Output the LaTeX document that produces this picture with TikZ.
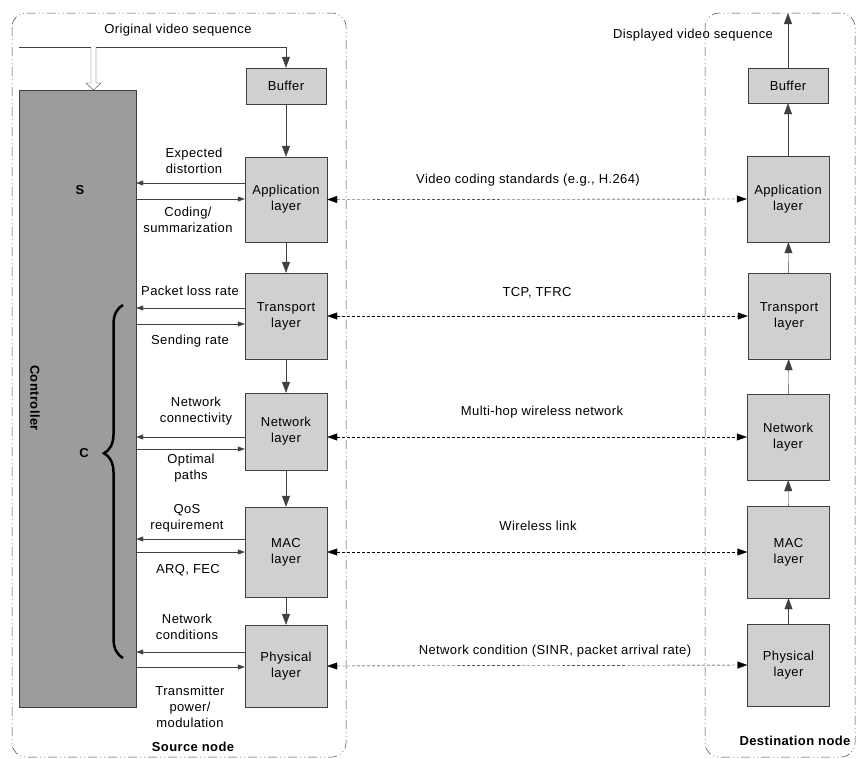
\documentclass[tikz,border=0pt]{standalone}
\usepackage{fontspec}
\setmainfont[LetterSpace=3]{Liberation Sans}
\usepackage{tikz}
\usetikzlibrary{arrows.meta, decorations.pathreplacing}
\definecolor{boxgray}{HTML}{D0D0D0}
\definecolor{ctrlgray}{HTML}{9C9C9C}
\definecolor{linegray}{HTML}{404040}

\begin{document}
\begin{tikzpicture}[x=1pt, y=-1pt,
  every node/.style={font=\fontsize{13}{16}\selectfont, align=center},
  btext/.style={font=\fontsize{13}{16}\selectfont\bfseries},
  layer/.style={draw=linegray, fill=boxgray, minimum width=82pt, inner sep=0pt},
  flow/.style={-{Triangle[length=11pt,width=8pt]}, linegray},
  feed/.style={-{Triangle[length=7pt,width=5pt]}, linegray},
  link/.style={densely dashed, {Triangle[length=10pt,width=7pt]}-{Triangle[length=10pt,width=7pt]}},
  nodeframe/.style={draw=black!75, line width=0.5pt, rounded corners=14pt,
    dash pattern=on 9pt off 3pt on 1pt off 3pt on 1pt off 3pt}]
  \useasboundingbox (0,0) rectangle (859,758);

  % Source and destination frames
  \draw[nodeframe] (12,13) rectangle (346,757);
  \draw[nodeframe] (705,13) rectangle (855,757);

  % Controller
  \node[draw=linegray, fill=ctrlgray, minimum width=117pt, minimum height=617pt, inner sep=0pt] (ctrl) at (77.5,398.5) {};
  \node[btext, rotate=-90] (ctrltext) at (35,398) {Controller};
  \node[btext] (slabel) at (80,190) {S};
  \node[btext] (clabel) at (84,453) {C};
  \draw[line width=2.5pt, decorate, decoration={brace, amplitude=19pt, aspect=0.58}] (123,658) -- (123,305);

  % Source layers
  \node[layer, minimum width=80pt, minimum height=36pt] (sbuf) at (286,86) {Buffer};
  \node[layer, minimum height=85pt] (sapp) at (286,199.5) {Application\\layer};
  \node[layer, minimum height=86pt] (stra) at (286,316) {Transport\\layer};
  \node[layer, minimum height=77pt] (snet) at (286,431.5) {Network\\layer};
  \node[layer, minimum height=90pt] (smac) at (286,552) {MAC\\layer};
  \node[layer, minimum height=82pt] (sphy) at (286,666) {Physical\\layer};

  % Destination layers
  \node[layer, minimum width=80pt, minimum height=35pt] (dbuf) at (788,85.5) {Buffer};
  \node[layer, minimum height=86pt] (dapp) at (788,199) {Application\\layer};
  \node[layer, minimum height=86pt] (dtra) at (789,316) {Transport\\layer};
  \node[layer, minimum height=86pt] (dnet) at (788,437) {Network\\layer};
  \node[layer, minimum height=92pt] (dmac) at (788.5,552) {MAC\\layer};
  \node[layer, minimum height=82pt] (dphy) at (788.5,665) {Physical\\layer};

  % Video in and out
  \coordinate (vin) at (19,47);
  \node (vintext) at (178,30) {Original video sequence};
  \draw[flow] (vin) -- (sbuf.north |- vin) -- (sbuf.north);
  \draw[linegray, fill=white] (91,47) -- (91,83) -- (86,83) -- (93.5,90) -- (101,83) -- (96,83) -- (96,47);
  \coordinate (vout) at (788,13);
  \node (vouttext) at (693,35) {Displayed video sequence};
  \draw[flow] (dbuf.north) -- (vout);

  % Down the source stack
  \draw[flow] (sbuf) -- (sapp);
  \draw[flow] (sapp) -- (stra);
  \draw[flow] (stra) -- (snet);
  \draw[flow] (snet) -- (smac);
  \draw[flow] (smac) -- (sphy);

  % Up the destination stack
  \draw[flow] (dphy) -- (dmac);
  \draw[flow] (dmac) -- (dnet);
  \draw[flow] (dnet) -- (dtra);
  \draw[flow] (dtra) -- (dapp);
  \draw[flow] (dapp) -- (dbuf);

  % Peer links
  \draw[link] (sapp.east) -- (dapp.west);
  \draw[link] (stra.east) -- (dtra.west);
  \draw[link] (snet.east |- dnet.west) -- (dnet.west);
  \draw[link] (smac.east) -- (dmac.west);
  \draw[link] (sphy.east) -- (dphy.west);
  \node (applink) at (528,180) {Video coding standards (e.g., H.264)};
  \node (tralink) at (537,293) {TCP, TFRC};
  \node (netlink) at (542,412) {Multi-hop wireless network};
  \node (maclink) at (538,526) {Wireless link};
  \node (phylink) at (555,651) {Network condition (SINR, packet arrival rate)};

  % Controller arrows
  \draw[feed] (sapp.west |- 0,183) -- (ctrl.east |- 0,183);
  \draw[feed] (ctrl.east |- 0,199) -- (sapp.west |- 0,199);
  \draw[feed] (stra.west |- 0,308) -- (ctrl.east |- 0,308);
  \draw[feed] (ctrl.east |- 0,324) -- (stra.west |- 0,324);
  \draw[feed] (snet.west |- 0,437) -- (ctrl.east |- 0,437);
  \draw[feed] (ctrl.east |- 0,449) -- (snet.west |- 0,449);
  \draw[feed] (smac.west |- 0,539) -- (ctrl.east |- 0,539);
  \draw[feed] (ctrl.east |- 0,552) -- (smac.west |- 0,552);
  \draw[feed] (sphy.west |- 0,652) -- (ctrl.east |- 0,652);
  \draw[feed] (ctrl.east |- 0,667) -- (sphy.west |- 0,667);

  \node (appup) at (194,161) {Expected\\distortion};
  \node (appdown) at (188,220) {Coding/\\summarization};
  \node (traup) at (190,291) {Packet loss rate};
  \node (tradown) at (190,341) {Sending rate};
  \node (netup) at (196,411) {Network\\connectivity};
  \node (netdown) at (191,468) {Optimal\\paths};
  \node (macup) at (187,518) {QoS\\requirement};
  \node (macdown) at (188,570) {ARQ, FEC};
  \node (phyup) at (187,627) {Network\\conditions};
  \node (phydown) at (190,707) {Transmitter\\power/\\modulation};

  \node[btext] (srcname) at (193,747) {Source node};
  \node[btext] (dstname) at (795,741) {Destination node};
\end{tikzpicture}
\end{document}
